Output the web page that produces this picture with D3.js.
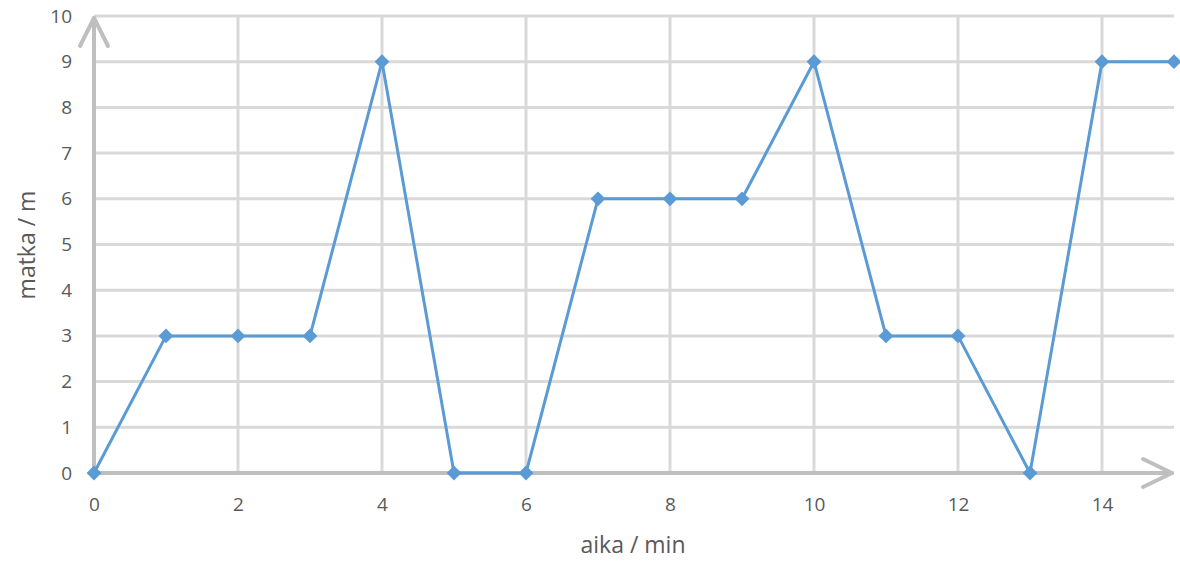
<!DOCTYPE html>
<html><head><meta charset="utf-8">
<script src="https://cdn.jsdelivr.net/npm/d3@7/dist/d3.min.js"></script>
<style>body{margin:0;background:#fff;} svg{display:block;}</style>
</head><body>
<svg id="c" width="1180" height="561"></svg>
<script>
const timeMin = [0,1,2,3,4,5,6,7,8,9,10,11,12,13,14,15];
const distM   = [0,3,3,3,9,0,0,6,6,6,9,3,3,0,9,9];
const xTicks = [0,2,4,6,8,10,12,14];
const yTicks = [0,1,2,3,4,5,6,7,8,9,10];
const xTitle = "aika / min";
const yTitle = "matka / m";

const svg = d3.select("#c");
const x = d3.scaleLinear().domain([0,15]).range([94,1174]);
const y = d3.scaleLinear().domain([0,10]).range([473,16]);
const font = "'Open Sans', 'Liberation Sans', sans-serif";
const grid = "#d9d9d9", axisC = "#bfbfbf", txt = "#595959", lineC = "#5b9bd5";

// horizontal gridlines
svg.append("g").selectAll("line").data(yTicks.filter(d=>d>0)).join("line")
  .attr("x1", x(0)).attr("x2", x(15)).attr("y1", d=>y(d)).attr("y2", d=>y(d))
  .attr("stroke", grid).attr("stroke-width", 3);
// vertical gridlines
svg.append("g").selectAll("line").data(xTicks.filter(d=>d>0)).join("line")
  .attr("x1", d=>x(d)).attr("x2", d=>x(d)).attr("y1", y(10)).attr("y2", y(0))
  .attr("stroke", grid).attr("stroke-width", 3);

// axes via d3 axis for labels
const xAxis = d3.axisBottom(x).tickValues(xTicks).tickSize(0).tickPadding(25);
const gx = svg.append("g").attr("transform", `translate(0,${y(0)})`).call(xAxis);
gx.select(".domain").remove();
gx.selectAll("text").attr("fill", txt).style("font-family", font).style("font-size", "19px");

const yAxis = d3.axisLeft(y).tickValues(yTicks).tickSize(0).tickPadding(22);
const gy = svg.append("g").attr("transform", `translate(${x(0)},0)`).call(yAxis);
gy.select(".domain").remove();
gy.selectAll("text").attr("fill", txt).style("font-family", font).style("font-size", "19px");

// axis lines with open arrowheads
const ax = svg.append("g").attr("stroke", axisC).attr("stroke-width", 4).attr("fill", "none")
  .attr("stroke-linecap", "round").attr("stroke-linejoin", "round");
ax.append("line").attr("x1", x(0)).attr("x2", x(15)-2).attr("y1", y(0)).attr("y2", y(0));
ax.append("line").attr("x1", x(0)).attr("x2", x(0)).attr("y1", y(0)).attr("y2", y(10)+2);
ax.append("path").attr("d", `M${x(15)-31},${y(0)-14} L${x(15)-2},${y(0)} L${x(15)-31},${y(0)+14}`);
ax.append("path").attr("d", `M${x(0)-14},${y(10)+30} L${x(0)},${y(10)+2} L${x(0)+14},${y(10)+30}`);

// data line
const pts = timeMin.map((t,i)=>[t, distM[i]]);
svg.append("path").datum(pts)
  .attr("d", d3.line().x(d=>x(d[0])).y(d=>y(d[1])))
  .attr("fill", "none").attr("stroke", lineC).attr("stroke-width", 3).attr("stroke-linejoin", "round");
svg.append("g").selectAll("path").data(pts).join("path")
  .attr("d", d3.symbol().type(d3.symbolSquare).size(110))
  .attr("transform", d=>`translate(${x(d[0])},${y(d[1])}) rotate(45)`)
  .attr("fill", lineC);

// titles
svg.append("text").attr("x", 633).attr("y", 553).attr("text-anchor", "middle")
  .attr("fill", txt).style("font-family", font).style("font-size", "23px").text(xTitle);
svg.append("text").attr("transform", "translate(35,245) rotate(-90)").attr("text-anchor", "middle")
  .attr("fill", txt).style("font-family", font).style("font-size", "23px").text(yTitle);
</script>
</body></html>
